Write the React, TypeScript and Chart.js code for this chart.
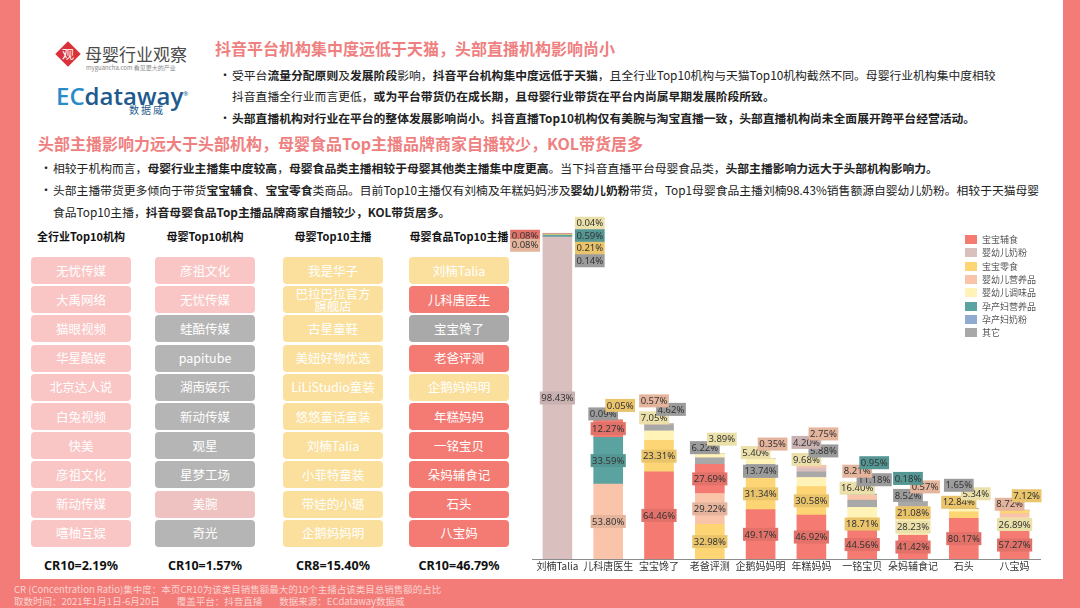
import React, { useEffect, useRef } from "react";
import { Chart, registerables } from "chart.js";

Chart.register(...registerables);

// ---------------- data ----------------
const anchors = ["刘楠Talia", "儿科唐医生", "宝宝馋了", "老爸评测", "企鹅妈妈明", "年糕妈妈", "一铭宝贝", "朵妈辅食记", "石头", "八宝妈"];
const categories = ["宝宝辅食", "婴幼儿奶粉", "宝宝零食", "婴幼儿营养品", "婴幼儿调味品", "孕产妇营养品", "孕产妇奶粉", "其它"];
const categoryColors = ["#F57B72", "#D9C0BF", "#FDD574", "#F9C4AA", "#FFF3B8", "#5BA3A0", "#91AACF", "#A8A8A8"];

// relative sales size of each anchor (刘楠Talia = 100)
const salesIndex = [100, 42.6, 41.3, 32.2, 30.7, 28.6, 19.8, 17.6, 15.5, 14.9];

// category share (%) of each anchor's sales, in anchor order
const shareBabyFood = [0.08, 12.27, 64.46, 27.69, 49.17, 46.92, 44.56, 41.42, 80.17, 57.27];
const shareInfantFormula = [98.43, 0, 0, 0, 0, 4.2, 0, 0, 0, 0];
const shareBabySnacks = [0.21, 0.05, 23.31, 32.98, 31.34, 30.58, 18.71, 21.08, 12.84, 7.12];
const shareInfantNutrition = [0.08, 53.8, 0.57, 29.22, 0.35, 2.75, 8.21, 0.57, 0, 8.72];
const shareInfantSeasoning = [0.04, 0, 7.05, 3.89, 5.4, 9.68, 16.4, 28.23, 5.34, 26.89];
const shareMaternalNutrition = [0.59, 33.59, 0, 0, 0, 0, 0.95, 0.18, 0, 0];
const shareMaternalFormula = [0, 0, 0, 0, 0, 0, 0, 0, 0, 0];
const shareOther = [0.14, 0.09, 4.62, 6.22, 13.74, 5.88, 11.18, 8.52, 1.65, 0];

const shareByCategory = [
  shareBabyFood, shareInfantFormula, shareBabySnacks, shareInfantNutrition,
  shareInfantSeasoning, shareMaternalNutrition, shareMaternalFormula, shareOther,
];

// left-hand ranking lists
const industryTop10Agencies = ["无忧传媒", "大禹网络", "猫眼视频", "华星酷娱", "北京达人说", "白兔视频", "快美", "彦祖文化", "新动传媒", "嘻柚互娱"];
const maternalTop10Agencies = ["彦祖文化", "无忧传媒", "蛙酷传媒", "papitube", "湖南娱乐", "新动传媒", "观星", "星梦工场", "美腕", "奇光"];
const maternalAgencyColors = ["#F9C6C5", "#F9C6C5", "#B5B5B5", "#B5B5B5", "#B5B5B5", "#B5B5B5", "#B5B5B5", "#B5B5B5", "#EDC2C0", "#B5B5B5"];
const maternalTop10Anchors = ["我是华子", "巴拉巴拉官方\n旗舰店", "古星童鞋", "美妞好物优选", "LiLiStudio童装", "悠悠童话童装", "刘楠Talia", "小菲特童装", "带娃的小璐", "企鹅妈妈明"];
const foodAnchorColors = ["#FBE09D", "#F47B73", "#A9A9A9", "#F47B73", "#FBE09D", "#F47B73", "#F47B73", "#F47B73", "#F47B73", "#F47B73"];
const crLabels = ["CR10=2.19%", "CR10=1.57%", "CR8=15.40%", "CR10=46.79%"];

// ---------------- derived (rank-stacked so each bar is sorted largest at bottom) ----------------
const nCat = categories.length;
const rankCat: number[][] = [];
for (let k = 0; k < nCat; k++) rankCat.push([]);
anchors.forEach((_, i) => {
  const order = categories.map((_, c) => c).sort((a, b) => shareByCategory[b][i] - shareByCategory[a][i]);
  order.forEach((c, k) => (rankCat[k][i] = c));
});
const rankDatasets = rankCat.map((cats, k) => ({
  label: "rank" + (k + 1),
  data: cats.map((c, i) => (salesIndex[i] * shareByCategory[c][i]) / 100),
  backgroundColor: cats.map((c) => categoryColors[c]),
  borderWidth: 0,
  barThickness: 29,
}));

function shade(hex: string, f: number) {
  const n = parseInt(hex.slice(1), 16);
  const r = Math.round(((n >> 16) & 255) * f);
  const g = Math.round(((n >> 8) & 255) * f);
  const b = Math.round((n & 255) * f);
  return `rgb(${r},${g},${b})`;
}

function drawTag(ctx: CanvasRenderingContext2D, text: string, x: number, y: number, color: string) {
  const w = ctx.measureText(text).width + 3;
  ctx.fillStyle = shade(color, 0.92);
  ctx.fillRect(x - w / 2, y - 6.5, w, 13);
  ctx.fillStyle = "#333";
  ctx.fillText(text, x, y + 0.5);
}

const segLabelPlugin = {
  id: "segLabels",
  afterDatasetsDraw(chart: any) {
    const ctx: CanvasRenderingContext2D = chart.ctx;
    ctx.save();
    ctx.font = '9.5px "Noto Sans", "DejaVu Sans", sans-serif';
    ctx.textAlign = "center";
    ctx.textBaseline = "middle";
    anchors.forEach((_, i) => {
      let top = Infinity;
      let bx = 0;
      let bw = 0;
      let smalls: { text: string; color: string }[] = [];
      rankCat.forEach((cats, k) => {
        const c = cats[i];
        const share = shareByCategory[c][i];
        if (!share) return;
        const el = chart.getDatasetMeta(k).data[i];
        const p = el.getProps(["x", "y", "base", "width"], true);
        top = Math.min(top, p.y);
        bx = p.x;
        bw = p.width;
        const text = share.toFixed(2) + "%";
        if (p.base - p.y >= 11) drawTag(ctx, text, p.x, (p.y + p.base) / 2, categoryColors[c]);
        else smalls.push({ text, color: categoryColors[c] });
      });
      if (!smalls.length) return;
      const side = top - smalls.length * 8.5 - 8 < chart.chartArea.top;
      if (side) {
        // smallest label on top, then the rest from largest down
        const last = smalls[smalls.length - 1];
        smalls = [last, ...smalls.slice(0, -1)];
      }
      smalls.forEach((s, k) => {
        const tw = ctx.measureText(s.text).width + 3;
        if (side) {
          if (k < 4) drawTag(ctx, s.text, bx + bw / 2 + 3 + tw / 2, top - 10 + k * 12.5, s.color);
          else drawTag(ctx, s.text, bx - bw / 2 - 3 - tw / 2, top + 3 + (k - 4) * 9, s.color);
        } else {
          drawTag(ctx, s.text, bx + (k % 2 ? 12 : -5), top - 6 - k * 8.5, s.color);
        }
      });
    });
    ctx.restore();
  },
};

const FONT = '"Noto Sans CJK SC", "Noto Sans", sans-serif';

function BoxColumn({ left, items, colors }: { left: number; items: string[]; colors: string[] }) {
  return (
    <>
      {items.map((t, i) => (
        <div
          key={i}
          style={{
            position: "absolute",
            left,
            top: 257 + i * 29.2,
            width: 100,
            height: 27,
            borderRadius: 4,
            background: colors[i],
            color: "#fff",
            fontSize: 12.5,
            display: "flex",
            alignItems: "center",
            justifyContent: "center",
            textAlign: "center",
            lineHeight: "12px",
            whiteSpace: "pre",
          }}
        >
          {t}
        </div>
      ))}
    </>
  );
}

function Line({ x, y, size, children, color = "#222", bold = false }: any) {
  return (
    <div
      style={{
        position: "absolute",
        left: x,
        top: y - 9,
        height: 18,
        lineHeight: "18px",
        fontSize: size,
        color,
        fontWeight: bold ? 700 : 400,
        whiteSpace: "nowrap",
      }}
    >
      {children}
    </div>
  );
}

export default function App() {
  const canvasRef = useRef<HTMLCanvasElement>(null);
  useEffect(() => {
    const chart = new Chart(canvasRef.current as HTMLCanvasElement, {
      type: "bar",
      data: { labels: anchors, datasets: rankDatasets as any },
      options: {
        animation: false,
        responsive: true,
        maintainAspectRatio: false,
        layout: { padding: { left: 32, right: 22, top: 10, bottom: 9 } },
        plugins: { legend: { display: false }, tooltip: { enabled: false } },
        scales: {
          x: {
            stacked: true,
            grid: { display: false, drawTicks: false },
            border: { display: true, color: "#8c8c8c", width: 1 },
            ticks: { color: "#333", font: { size: 10, family: FONT, lineHeight: 1 }, padding: 2, autoSkip: false, maxRotation: 0 },
          },
          y: { stacked: true, display: false, min: 0, max: 102.4 },
        },
      },
      plugins: [segLabelPlugin],
    });
    return () => chart.destroy();
  }, []);

  const colCenters = [81, 205, 333, 459];
  const colHeads = ["全行业Top10机构", "母婴Top10机构", "母婴Top10主播", "母婴食品Top10主播"];

  return (
    <div style={{ position: "absolute", left: 0, top: 0, width: 1080, height: 608, background: "#F37C78", overflow: "hidden", fontFamily: FONT }}>
      <div style={{ position: "absolute", left: 20, top: 0, width: 1043, height: 579, background: "#fff" }} />

      {/* logos */}
      <div style={{ position: "absolute", left: 59, top: 45, width: 18, height: 18, background: "#D9323A", transform: "rotate(45deg)" }} />
      <div style={{ position: "absolute", left: 59, top: 45, width: 18, height: 18, color: "#fff", fontSize: 12, lineHeight: "18px", textAlign: "center" }}>观</div>
      <div style={{ position: "absolute", left: 85, top: 43, fontSize: 17, color: "#4a4a4a", lineHeight: "22px" }}>母婴行业观察</div>
      <div style={{ position: "absolute", left: 86, top: 64, fontSize: 6, color: "#888", lineHeight: "8px", whiteSpace: "nowrap" }}>myguancha.com 看见更大的产业</div>
      <div style={{ position: "absolute", left: 56, top: 80, fontSize: 24, fontFamily: '"Open Sans", sans-serif', fontWeight: 600, lineHeight: "28px", whiteSpace: "nowrap" }}>
        <span style={{ color: "#2A8BC9" }}>EC</span>
        <span style={{ color: "#1E5A8E" }}>dataway</span>
        <sup style={{ fontSize: 6, color: "#1E5A8E" }}>®</sup>
      </div>
      <div style={{ position: "absolute", left: 129, top: 104, fontSize: 10, color: "#1E5A8E", lineHeight: "12px", letterSpacing: 2 }}>数据威</div>

      {/* section 1 */}
      <Line x={215} y={48} size={16} color="#EF8080" bold>抖音平台机构集中度远低于天猫，头部直播机构影响尚小</Line>
      <Line x={219} y={75} size={12}>•</Line>
      <Line x={232} y={75} size={11.8}>
        受平台<b>流量分配原则</b>及<b>发展阶段</b>影响，<b>抖音平台机构集中度远低于天猫</b>，且全行业Top10机构与天猫Top10机构截然不同。母婴行业机构集中度相较
      </Line>
      <Line x={232} y={96} size={11.8}>
        抖音直播全行业而言更低，<b>或为平台带货仍在成长期，且母婴行业带货在平台内尚属早期发展阶段所致。</b>
      </Line>
      <Line x={219} y={118} size={12}>•</Line>
      <Line x={232} y={118} size={11.8} bold>头部直播机构对行业在平台的整体发展影响尚小。抖音直播Top10机构仅有美腕与淘宝直播一致，头部直播机构尚未全面展开跨平台经营活动。</Line>

      {/* section 2 */}
      <Line x={38} y={143} size={16} color="#EF8080" bold>头部主播影响力远大于头部机构，母婴食品Top主播品牌商家自播较少，KOL带货居多</Line>
      <Line x={40} y={168} size={12}>•</Line>
      <Line x={53} y={168} size={11.8}>
        相较于机构而言，<b>母婴行业主播集中度较高</b>，<b>母婴食品类主播相较于母婴其他类主播集中度更高</b>。当下抖音直播平台母婴食品类，<b>头部主播影响力远大于头部机构影响力。</b>
      </Line>
      <Line x={40} y={190} size={12}>•</Line>
      <Line x={53} y={190} size={11.8}>
        头部主播带货更多倾向于带货<b>宝宝辅食</b>、<b>宝宝零食</b>类商品。目前Top10主播仅有刘楠及年糕妈妈涉及<b>婴幼儿奶粉</b>带货，Top1母婴食品主播刘楠98.43%销售额源自婴幼儿奶粉。相较于天猫母婴
      </Line>
      <Line x={53} y={212} size={11.8}>
        食品Top10主播，<b>抖音母婴食品Top主播品牌商家自播较少，KOL带货居多。</b>
      </Line>

      {/* ranking columns */}
      {colHeads.map((h, i) => (
        <div key={h} style={{ position: "absolute", left: colCenters[i] - 70, width: 140, top: 228, lineHeight: "16px", textAlign: "center", fontSize: 11, fontWeight: 700, color: "#111" }}>{h}</div>
      ))}
      <BoxColumn left={31} items={industryTop10Agencies} colors={industryTop10Agencies.map(() => "#F9C6C5")} />
      <BoxColumn left={155} items={maternalTop10Agencies} colors={maternalAgencyColors} />
      <BoxColumn left={283} items={maternalTop10Anchors} colors={maternalTop10Anchors.map(() => "#FBE09D")} />
      <BoxColumn left={409} items={anchors} colors={foodAnchorColors} />
      {crLabels.map((t, i) => (
        <div key={t} style={{ position: "absolute", left: colCenters[i] - 70, width: 140, top: 558, lineHeight: "16px", textAlign: "center", fontSize: 12.5, fontWeight: 700, color: "#111", fontFamily: '"Noto Sans", sans-serif' }}>{t}</div>
      ))}

      {/* chart */}
      <div style={{ position: "absolute", left: 500, top: 214, width: 562, height: 368 }}>
        <canvas ref={canvasRef} />
      </div>

      {/* legend */}
      <div style={{ position: "absolute", left: 965, top: 233 }}>
        {categories.map((c, i) => (
          <div key={c} style={{ display: "flex", alignItems: "center", height: 13.3, fontSize: 9, color: "#555", whiteSpace: "nowrap" }}>
            <span style={{ display: "inline-block", width: 12, height: 9, background: categoryColors[i], marginRight: 5 }} />
            {c}
          </div>
        ))}
      </div>

      {/* footer */}
      <div style={{ position: "absolute", left: 14, top: 583, fontSize: 9.5, lineHeight: "12px", color: "#FBD3D1", whiteSpace: "pre" }}>
        {"CR (Concentration Ratio)集中度：本页CR10为该类目销售额最大的10个主播占该类目总销售额的占比\n取数时间：2021年1月1日-6月20日        覆盖平台：抖音直播        数据来源：ECdataway数据威"}
      </div>
    </div>
  );
}
